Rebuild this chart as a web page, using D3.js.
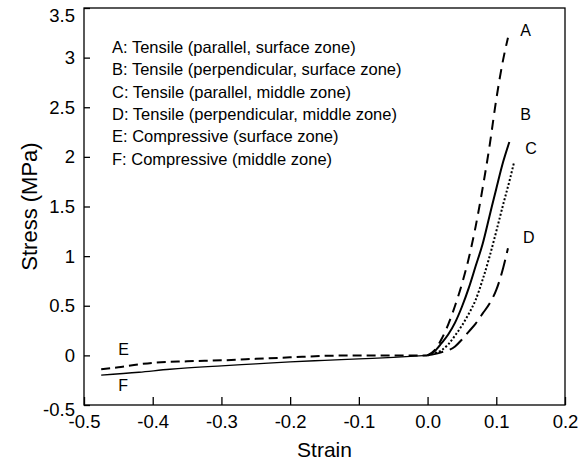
<!DOCTYPE html>
<html>
<head>
<meta charset="utf-8">
<script src="https://cdn.jsdelivr.net/npm/d3@7"></script>
<style>
  body { margin: 0; background: #fff; }
  svg { display: block; font-family: "Liberation Sans", Arial, sans-serif; }
</style>
</head>
<body>
<div id="chart"></div>
<script>
// Stress-strain curves, values
const xTicks = [-0.5, -0.4, -0.3, -0.2, -0.1, 0.0, 0.1, 0.2]
const yTicks = [-0.5, 0, 0.5, 1, 1.5, 2, 2.5, 3, 3.5]

const curveA = [[0,0],[0.01,0.05],[0.02,0.16],[0.03,0.31],[0.04,0.5],[0.05,0.72],[0.06,0.98],[0.07,1.3],[0.08,1.68],[0.09,2.1],[0.1,2.58],[0.11,2.98],[0.117,3.2]]
const curveB = [[0,0],[0.01,0.04],[0.02,0.12],[0.03,0.21],[0.04,0.33],[0.05,0.49],[0.06,0.68],[0.07,0.9],[0.08,1.12],[0.09,1.4],[0.1,1.68],[0.11,1.95],[0.119,2.15]]
const curveC = [[0,0],[0.01,0.02],[0.02,0.05],[0.03,0.11],[0.04,0.2],[0.05,0.3],[0.06,0.42],[0.07,0.56],[0.08,0.76],[0.09,0.99],[0.1,1.25],[0.11,1.52],[0.12,1.78],[0.126,1.95]]
const curveD = [[0,0],[0.02,0.03],[0.04,0.09],[0.05,0.16],[0.06,0.24],[0.07,0.32],[0.08,0.42],[0.09,0.52],[0.1,0.66],[0.11,0.88],[0.117,1.08]]
const curveE = [[-0.475,-0.14],[-0.45,-0.12],[-0.42,-0.09],[-0.4,-0.075],[-0.35,-0.06],[-0.3,-0.05],[-0.25,-0.035],[-0.2,-0.02],[-0.15,-0.005],[-0.1,0],[-0.05,0],[0,0]]
const curveF = [[-0.475,-0.2],[-0.42,-0.17],[-0.375,-0.14],[-0.3,-0.105],[-0.25,-0.085],[-0.2,-0.065],[-0.15,-0.05],[-0.1,-0.035],[-0.05,-0.02],[0,0]]

const curveNames = ["A", "B", "C", "D", "E", "F"]
const labelPos = [[0.135,3.27],[0.135,2.43],[0.142,2.09],[0.139,1.19],[-0.45,0.06],[-0.45,-0.3]]
const legendLines = [
  "A: Tensile (parallel, surface zone)",
  "B: Tensile (perpendicular, surface zone)",
  "C: Tensile (parallel, middle zone)",
  "D: Tensile (perpendicular, middle zone)",
  "E: Compressive (surface zone)",
  "F: Compressive (middle zone)"
]

const width = 580
const height = 460
const margin = { top: 8, right: 15, bottom: 55, left: 84 }
const innerW = width - margin.left - margin.right
const innerH = height - margin.top - margin.bottom

const svg = d3.select("#chart")
  .append("svg")
  .attr("width", width)
  .attr("height", height)

const g = svg.append("g")
  .attr("transform", `translate(${margin.left},${margin.top})`)

const x = d3.scaleLinear().domain([-0.5, 0.2]).range([0, innerW])
const y = d3.scaleLinear().domain([-0.5, 3.5]).range([innerH, 0])

// plain hyphen instead of d3's unicode minus
const fmtX = d => d3.format(".1f")(d).replace("\u2212", "-")
const fmtY = d => String(d)

// Frame
g.append("rect")
  .attr("width", innerW)
  .attr("height", innerH)
  .attr("fill", "none")
  .attr("stroke", "#000")
  .attr("stroke-width", 1.3)

// X axis, ticks pointing inward
const xAxis = g.append("g")
  .attr("transform", `translate(0,${innerH})`)
  .call(d3.axisBottom(x).tickValues(xTicks).tickSize(-8).tickPadding(10).tickFormat(fmtX))
xAxis.selectAll("text").attr("font-size", "18.5px").attr("fill", "#000")

// Y axis
const yAxis = g.append("g")
  .call(d3.axisLeft(y).tickValues(yTicks).tickSize(-6).tickPadding(9).tickFormat(fmtY))
yAxis.selectAll("text").attr("font-size", "18.5px").attr("fill", "#000")
// top and bottom labels sit a little lower, as in the original
yAxis.selectAll(".tick text").filter(d => d === 3.5).attr("dy", "0.72em")
yAxis.selectAll(".tick text").filter(d => d === -0.5).attr("dy", "0.55em")

svg.selectAll(".domain").attr("stroke", "none")
svg.selectAll(".tick line").attr("stroke", "#000").attr("stroke-width", 1.3)

// Axis titles
svg.append("text")
  .attr("x", margin.left + innerW / 2)
  .attr("y", 457)
  .attr("text-anchor", "middle")
  .attr("font-size", "21px")
  .text("Strain")

svg.append("text")
  .attr("transform", `translate(37,${margin.top + innerH / 2}) rotate(-90)`)
  .attr("text-anchor", "middle")
  .attr("font-size", "22px")
  .text("Stress (MPa)")

// Curves
const line = d3.line()
  .x(d => x(d[0]))
  .y(d => y(d[1]))
  .curve(d3.curveMonotoneX)

const styles = [
  { data: curveA, dash: "10,7", w: 2 },
  { data: curveB, dash: null, w: 2 },
  { data: curveC, dash: "2,2", w: 2 },
  { data: curveD, dash: "16,7", w: 2 },
  { data: curveE, dash: "9,5", w: 2 },
  { data: curveF, dash: null, w: 1.3 }
]

styles.forEach(s => {
  g.append("path")
    .datum(s.data)
    .attr("d", line)
    .attr("fill", "none")
    .attr("stroke", "#000")
    .attr("stroke-width", s.w)
    .attr("stroke-dasharray", s.dash)
})

// Curve letters
curveNames.forEach((name, i) => {
  g.append("text")
    .attr("x", x(labelPos[i][0]))
    .attr("y", y(labelPos[i][1]))
    .attr("dy", "0.35em")
    .attr("font-size", "16px")
    .text(name)
})

// Legend text block
legendLines.forEach((t, i) => {
  svg.append("text")
    .attr("x", 112)
    .attr("y", 47 + i * 22.4)
    .attr("dy", "0.35em")
    .attr("font-size", "16.5px")
    .text(t)
})
</script>
</body>
</html>
